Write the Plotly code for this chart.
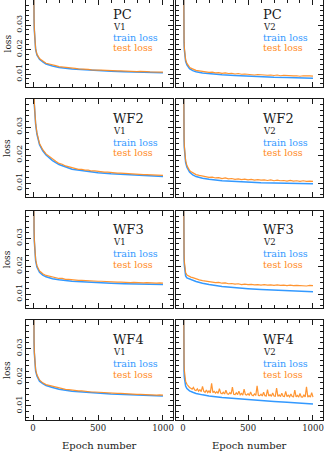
import plotly.graph_objects as go
from plotly.subplots import make_subplots

# epochs used for the (smooth) train curves and the (noisy) test curves
train_epochs = [0, 2, 4, 6, 8, 10, 15, 20, 30, 40, 50, 75, 100, 150, 200, 300, 400, 500, 600, 700, 800, 900, 1000]
test_epochs = [0, 2, 4, 6, 8, 10, 15, 20, 30, 40, 50, 60, 75, 100, 125, 150, 175, 200, 225, 250, 275, 300,
               325, 350, 375, 400, 425, 450, 475, 500, 525, 550, 575, 600, 625, 650, 675, 700, 725, 750,
               775, 800, 825, 850, 875, 900, 925, 950, 975, 1000]
test_epochs_fine = [0, 2, 4, 6, 8, 10, 15, 20, 30, 40, 50,
                    60, 70, 80, 90, 100, 110, 120, 130, 140, 150,
                    160, 170, 180, 190, 200, 210, 220, 230, 240, 250,
                    260, 270, 280, 290, 300, 310, 320, 330, 340, 350,
                    360, 370, 380, 390, 400, 410, 420, 430, 440, 450,
                    460, 470, 480, 490, 500, 510, 520, 530, 540, 550,
                    560, 570, 580, 590, 600, 610, 620, 630, 640, 650,
                    660, 670, 680, 690, 700, 710, 720, 730, 740, 750,
                    760, 770, 780, 790, 800, 810, 820, 830, 840, 850,
                    860, 870, 880, 890, 900, 910, 920, 930, 940, 950,
                    960, 970, 980, 990, 1000]

# loss values in units of 1e-4
pc_v1_train = [900, 600, 450, 370, 320, 280, 230, 200, 178, 166, 160, 149, 141, 133, 127, 120, 116, 113, 111, 109, 107, 106, 105]
pc_v1_test = [950, 620, 460, 378, 325, 284, 233, 203, 181, 169, 163, 159, 153, 144, 141, 136, 134, 130, 129, 126, 126, 123,
              123, 121, 121, 119, 119, 117, 118, 116, 116, 115, 115, 114, 114, 113, 113, 112, 112, 111,
              111, 110, 111, 109, 110, 109, 109, 108, 109, 108]

pc_v2_train = [1000, 500, 350, 270, 230, 200, 168, 152, 137, 128, 122, 114, 109, 104, 101, 97, 94, 91, 89, 87, 86, 84, 83]
pc_v2_test = [1100, 540, 370, 285, 240, 208, 175, 158, 143, 134, 128, 124, 120, 115, 113, 110, 110, 107, 108, 105, 106, 103,
              105, 102, 103, 100, 102, 99, 100, 98, 99, 96, 98, 96, 97, 95, 96, 94, 96, 93,
              95, 93, 94, 92, 93, 91, 93, 91, 92, 91]

wf2_v1_train = [1000, 700, 550, 470, 420, 380, 340, 310, 275, 252, 237, 215, 200, 180, 166, 149, 142, 137, 133, 130, 127, 125, 123]
wf2_v1_test = [1100, 720, 560, 478, 425, 385, 344, 314, 279, 256, 241, 232, 219, 204, 195, 184, 178, 170, 167, 161, 158, 153,
               152, 149, 149, 146, 146, 143, 143, 141, 141, 139, 139, 137, 137, 135, 135, 134, 134, 132,
               132, 131, 131, 130, 130, 129, 129, 128, 128, 127]

wf2_v2_train = [1000, 520, 375, 300, 255, 226, 192, 174, 156, 146, 139, 129, 123, 117, 113, 108, 105, 103, 101, 100, 99, 98, 97]
wf2_v2_test = [1100, 550, 390, 312, 265, 234, 198, 180, 162, 152, 145, 141, 136, 130, 127, 124, 123, 120, 121, 118, 119, 116,
               118, 115, 116, 113, 115, 112, 114, 111, 113, 110, 112, 110, 111, 109, 111, 108, 110, 108,
               109, 107, 109, 107, 108, 106, 108, 106, 107, 106]

wf3_v1_train = [1000, 650, 480, 390, 330, 290, 245, 220, 197, 185, 178, 168, 162, 155, 151, 146, 143, 141, 139, 137, 136, 135, 134]
wf3_v1_test = [1100, 670, 492, 397, 336, 295, 250, 225, 202, 190, 183, 179, 173, 167, 164, 160, 159, 156, 156, 153, 153, 151,
               151, 149, 149, 148, 148, 147, 147, 146, 146, 145, 145, 144, 144, 143, 143, 142, 143, 141,
               142, 141, 141, 140, 141, 140, 140, 139, 140, 139]

wf3_v2_train = [1000, 500, 340, 270, 230, 205, 178, 165, 158, 156, 154, 149, 145, 139, 134, 127, 122, 119, 116, 114, 112, 110, 108]
wf3_v2_test = [1100, 530, 360, 285, 245, 218, 190, 177, 168, 165, 163, 161, 159, 154, 151, 148, 146, 144, 144, 141, 142, 139,
               140, 137, 138, 136, 137, 134, 136, 134, 135, 133, 134, 132, 134, 132, 133, 131, 133, 131,
               132, 130, 132, 130, 131, 130, 131, 129, 131, 130]

wf4_v1_train = [1000, 650, 470, 380, 320, 285, 243, 222, 204, 193, 186, 177, 171, 164, 158, 151, 147, 144, 141, 139, 137, 135, 134]
wf4_v1_test = [1100, 670, 485, 390, 327, 290, 247, 226, 208, 197, 190, 186, 180, 174, 171, 167, 165, 161, 160, 157, 156, 154,
               154, 152, 152, 150, 150, 148, 148, 147, 147, 145, 145, 144, 144, 143, 143, 142, 142, 141,
               141, 140, 140, 139, 139, 138, 138, 137, 138, 137]

wf4_v2_train = [1000, 480, 320, 255, 220, 200, 180, 169, 160, 155, 152, 147, 143, 138, 134, 129, 125, 121, 118, 115, 112, 109, 106]
wf4_v2_test = [1100, 520, 350, 280, 245, 225, 200, 186, 175, 168, 164,
               161, 158, 164, 155, 153, 159, 151, 156, 149, 168,
               150, 147, 155, 146, 152, 145, 178, 146, 150, 144,
               149, 143, 160, 144, 142, 147, 141, 154, 142, 140,
               146, 141, 165, 140, 139, 145, 139, 151, 138, 143,
               137, 158, 139, 137, 142, 136, 148, 137, 135, 141,
               136, 170, 136, 135, 140, 134, 147, 135, 134, 156,
               134, 139, 133, 145, 134, 133, 162, 133, 138, 132,
               144, 133, 132, 150, 132, 137, 131, 141, 132, 131,
               155, 131, 136, 130, 143, 131, 130, 137, 131, 166,
               130, 135, 130, 146, 130]

panels = [
    ("PC", "V1", pc_v1_train, test_epochs, pc_v1_test),
    ("PC", "V2", pc_v2_train, test_epochs, pc_v2_test),
    ("WF2", "V1", wf2_v1_train, test_epochs, wf2_v1_test),
    ("WF2", "V2", wf2_v2_train, test_epochs, wf2_v2_test),
    ("WF3", "V1", wf3_v1_train, test_epochs, wf3_v1_test),
    ("WF3", "V2", wf3_v2_train, test_epochs, wf3_v2_test),
    ("WF4", "V1", wf4_v1_train, test_epochs, wf4_v1_test),
    ("WF4", "V2", wf4_v2_train, test_epochs_fine, wf4_v2_test),
]

W, H = 325, 453
BLUE = "#3399ff"
ORANGE = "#ff8a1c"
FONT = "DejaVu Serif"
INK = "#1a1a1a"

# panel frames in pixels
col_px = [(26, 173), (176, 323)]
row_px = [(0, 87), (99, 197), (210.5, 308), (320, 420)]
y_ranges = [[0.0047, 0.0402], [0.005, 0.040], [0.005, 0.040], [0.005, 0.040]]
label_off = [(15, 27, 37.5, 47.5), (19, 31.7, 43, 54), (19, 31.7, 43, 54), (19, 32, 43.5, 54.5)]

fig = make_subplots(rows=4, cols=2)

for i, (name, ver, tr, te_x, te) in enumerate(panels):
    r, c = i // 2, i % 2
    fig.add_trace(go.Scatter(x=train_epochs, y=[v * 1e-4 for v in tr], mode="lines",
                             line=dict(color=BLUE, width=1.5), showlegend=False),
                  row=r + 1, col=c + 1)
    fig.add_trace(go.Scatter(x=te_x, y=[v * 1e-4 for v in te], mode="lines",
                             line=dict(color=ORANGE, width=1.2), opacity=0.9, showlegend=False),
                  row=r + 1, col=c + 1)

    n = i + 1
    x0, x1 = col_px[c]
    y0, y1 = row_px[r]
    fig.layout[f"xaxis{n}"].update(
        domain=[x0 / W, x1 / W], range=[-54, 1077],
        showline=True, mirror="ticks", linecolor=INK, linewidth=1,
        ticks="inside", ticklen=5, tickcolor=INK, tickvals=[0, 500, 1000],
        minor=dict(ticks="inside", ticklen=3, dtick=100, tick0=0, tickcolor=INK),
        showgrid=False, zeroline=False,
        showticklabels=(r == 3), tickfont=dict(family=FONT, size=8.5, color=INK),
    )
    fig.layout[f"yaxis{n}"].update(
        domain=[1 - y1 / H, 1 - y0 / H], range=y_ranges[r],
        showline=True, mirror="ticks", linecolor=INK, linewidth=1,
        ticks="inside", ticklen=5, tickcolor=INK, tickvals=[0.01, 0.02, 0.03],
        ticktext=["0.01", "0.02", "0.03"],
        minor=dict(ticks="inside", ticklen=3, dtick=0.002, tick0=0, tickcolor=INK),
        showgrid=False, zeroline=False,
        showticklabels=(c == 0), tickangle=-90,
        tickfont=dict(family=FONT, size=8, color=INK),
    )

    xl = (x0 + 85) / W
    offs = label_off[r]
    texts = [(name, 13, INK), (ver, 8.5, INK), ("train loss", 9.5, BLUE), ("test loss", 9.5, ORANGE)]
    for (txt, sz, col), off in zip(texts, offs):
        fig.add_annotation(x=xl, y=1 - (y0 + off) / H, xref="paper", yref="paper",
                           text=txt, showarrow=False, xanchor="left", yanchor="middle",
                           font=dict(family=FONT, size=sz, color=col))

    if c == 0:
        fig.add_annotation(x=7 / W, y=1 - (y0 + y1) / 2 / H, xref="paper", yref="paper",
                           text="loss", textangle=-90, showarrow=False,
                           xanchor="center", yanchor="middle",
                           font=dict(family=FONT, size=9, color=INK))
    if r == 3:
        fig.add_annotation(x=(x0 + x1) / 2 / W, y=1 - 445 / H, xref="paper", yref="paper",
                           text="Epoch number", showarrow=False,
                           xanchor="center", yanchor="middle",
                           font=dict(family=FONT, size=10, color=INK))

fig.update_layout(
    width=W, height=H,
    margin=dict(l=0, r=0, t=0, b=0),
    paper_bgcolor="white",
    plot_bgcolor="white",
    showlegend=False,
)

# drop the browser's default 8px body margin so the figure sits at the window's corner
fig.write_html("out.html", config={"displayModeBar": False},
               post_script="document.body.style.margin='0';")
